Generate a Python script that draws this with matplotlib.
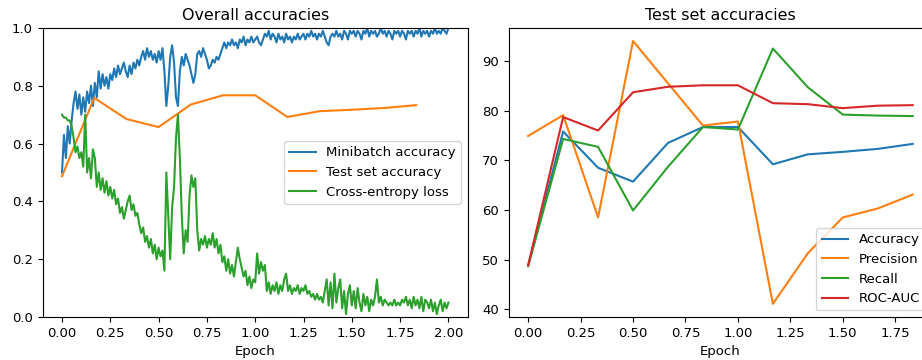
import numpy as np
import matplotlib
matplotlib.use("Agg")
import matplotlib.pyplot as plt

plt.rcParams['font.size'] = 9.5

# minibatch accuracy, read every 0.01 epoch from 0.00 to 2.00
minibatch_acc = [
    0.50, 0.63, 0.55, 0.66, 0.60, 0.68, 0.74, 0.78, 0.72, 0.77, 0.70,
    0.76, 0.71, 0.78, 0.74, 0.80, 0.73, 0.81, 0.76, 0.85, 0.79,
    0.84, 0.80, 0.83, 0.79, 0.84, 0.82, 0.86, 0.83, 0.87, 0.84,
    0.86, 0.88, 0.85, 0.83, 0.87, 0.84, 0.88, 0.86, 0.89, 0.87,
    0.90, 0.92, 0.89, 0.93, 0.90, 0.92, 0.89, 0.91, 0.88, 0.92,
    0.89, 0.93, 0.85, 0.73, 0.80, 0.90, 0.94, 0.88, 0.76, 0.73,
    0.85, 0.90, 0.87, 0.91, 0.89, 0.87, 0.84, 0.81, 0.84, 0.91,
    0.92, 0.90, 0.93, 0.91, 0.89, 0.86, 0.87, 0.89, 0.88, 0.90,
    0.89, 0.91, 0.93, 0.95, 0.93, 0.95, 0.94, 0.96, 0.94, 0.95,
    0.93, 0.96, 0.95, 0.97, 0.94, 0.96, 0.95, 0.97, 0.95, 0.96,
    0.97, 0.95, 0.94, 0.96, 0.98, 0.97, 0.99, 0.96, 0.98, 0.97,
    0.95, 0.98, 0.96, 0.97, 0.95, 0.98, 0.96, 0.97, 0.95, 0.97,
    0.96, 0.98, 0.96, 0.97, 0.98, 0.96, 0.98, 0.97, 0.99, 0.97,
    0.98, 0.96, 0.98, 0.97, 0.99, 0.97, 0.95, 0.94, 0.97, 0.98,
    0.97, 0.99, 0.97, 0.98, 0.96, 0.99, 0.98, 0.96, 0.99, 0.98,
    0.99, 0.97, 0.99, 0.98, 0.96, 0.99, 0.98, 1.00, 0.97, 0.99,
    0.98, 0.99, 0.97, 0.98, 1.00, 0.98, 0.99, 0.97, 0.99, 0.98,
    0.96, 0.99, 0.98, 0.99, 0.97, 0.99, 0.98, 0.96, 0.99, 0.98,
    0.99, 0.97, 0.99, 0.98, 1.00, 0.97, 0.99, 0.98, 0.99, 0.97,
    0.99, 0.98, 1.00, 0.98, 0.99, 0.98, 1.00, 0.99, 0.98, 1.00,
]

# cross-entropy loss, same sampling
ce_loss = [
    0.70, 0.69, 0.69, 0.68, 0.68, 0.66, 0.62, 0.57, 0.59, 0.55, 0.57,
    0.52, 0.70, 0.50, 0.55, 0.48, 0.58, 0.55, 0.45, 0.50, 0.44,
    0.48, 0.43, 0.47, 0.42, 0.45, 0.41, 0.44, 0.39, 0.41, 0.36,
    0.38, 0.34, 0.37, 0.40, 0.42, 0.37, 0.39, 0.35, 0.36, 0.32,
    0.29, 0.31, 0.26, 0.28, 0.24, 0.27, 0.22, 0.25, 0.20, 0.24,
    0.21, 0.23, 0.16, 0.50, 0.35, 0.20, 0.38, 0.45, 0.62, 0.70,
    0.55, 0.35, 0.22, 0.30, 0.26, 0.42, 0.49, 0.45, 0.48, 0.30,
    0.23, 0.27, 0.25, 0.28, 0.24, 0.27, 0.25, 0.29, 0.24, 0.27,
    0.22, 0.25, 0.19, 0.21, 0.16, 0.20, 0.15, 0.18, 0.14, 0.19,
    0.24, 0.20, 0.17, 0.14, 0.16, 0.11, 0.14, 0.10, 0.13, 0.12,
    0.22, 0.15, 0.19, 0.16, 0.18, 0.09, 0.12, 0.08, 0.11, 0.09,
    0.12, 0.08, 0.11, 0.09, 0.13, 0.15, 0.09, 0.11, 0.08, 0.10,
    0.09, 0.11, 0.08, 0.10, 0.09, 0.11, 0.08, 0.09, 0.07, 0.08,
    0.06, 0.08, 0.06, 0.07, 0.05, 0.09, 0.13, 0.04, 0.12, 0.03,
    0.15, 0.05, 0.10, 0.13, 0.03, 0.09, 0.01, 0.08, 0.11, 0.04,
    0.09, 0.03, 0.10, 0.05, 0.02, 0.08, 0.04, 0.07, 0.02, 0.06,
    0.04, 0.07, 0.13, 0.05, 0.07, 0.04, 0.06, 0.05, 0.04, 0.05,
    0.04, 0.06, 0.04, 0.05, 0.04, 0.06, 0.05, 0.07, 0.04, 0.06,
    0.03, 0.07, 0.04, 0.06, 0.03, 0.07, 0.02, 0.06, 0.05, 0.03,
    0.06, 0.02, 0.05, 0.01, 0.04, 0.06, 0.02, 0.05, 0.03, 0.05,
]

# test set evaluations every 1/6 epoch
test_epochs = [0, 1/6, 2/6, 3/6, 4/6, 5/6, 1, 7/6, 8/6, 9/6, 10/6, 11/6]
test_acc = [0.487, 0.758, 0.685, 0.657, 0.735, 0.767, 0.767, 0.692, 0.712, 0.717, 0.723, 0.733]

accuracy = [48.8, 75.8, 68.5, 65.7, 73.5, 76.7, 76.7, 69.2, 71.2, 71.7, 72.3, 73.3]
precision = [74.9, 79.1, 58.5, 94.0, 85.5, 77.0, 77.8, 41.1, 51.3, 58.5, 60.3, 63.1]
recall = [48.7, 74.3, 72.7, 59.9, 68.7, 76.7, 76.2, 92.5, 84.7, 79.2, 79.0, 78.9]
roc_auc = [48.9, 78.7, 76.0, 83.7, 84.8, 85.1, 85.1, 81.5, 81.3, 80.5, 81.0, 81.1]

fig = plt.figure(figsize=(9.22, 3.6), dpi=100)
ax1 = fig.add_axes([0.0463, 0.1194, 0.461, 0.803])
ax2 = fig.add_axes([0.552, 0.1194, 0.4588, 0.803])

ax1.plot(np.linspace(0, 2, len(minibatch_acc)), minibatch_acc, label='Minibatch accuracy')
ax1.plot(test_epochs, test_acc, label='Test set accuracy')
ax1.plot(np.linspace(0, 2, len(ce_loss)), ce_loss, label='Cross-entropy loss')
ax1.set_ylim(0, 1)
ax1.set_title('Overall accuracies')
ax1.set_xlabel('Epoch')
ax1.legend(loc='center right')

ax2.plot(test_epochs, accuracy, label='Accuracy')
ax2.plot(test_epochs, precision, label='Precision')
ax2.plot(test_epochs, recall, label='Recall')
ax2.plot(test_epochs, roc_auc, label='ROC-AUC')
ax2.set_title('Test set accuracies')
ax2.set_xlabel('Epoch')
# the original figure is cut at the right edge, legend runs off it
ax2.legend(loc='lower right')

fig.savefig('out.png', dpi=100)
